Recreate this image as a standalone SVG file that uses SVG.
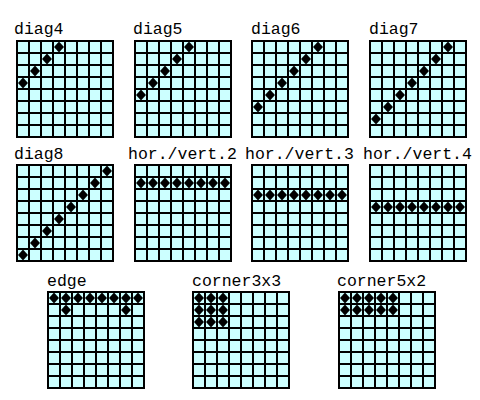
<svg xmlns="http://www.w3.org/2000/svg" xmlns:xlink="http://www.w3.org/1999/xlink" width="480" height="400" viewBox="0 0 480 400">
<style>
text{font-family:"Liberation Mono","DejaVu Sans Mono",monospace;font-size:16.5px;fill:#000}
.bg{fill:#ccffff}
.ln{stroke:#000;stroke-width:2;fill:none}
.d{fill:#000}
</style>
<defs>
<g id="grid">
<rect class="bg" x="0" y="0" width="96" height="96"/>
<path class="ln" d="M0,0V96M12,0V96M24,0V96M36,0V96M48,0V96M60,0V96M72,0V96M84,0V96M96,0V96M-1,0H97M-1,12H97M-1,24H97M-1,36H97M-1,48H97M-1,60H97M-1,72H97M-1,84H97M-1,96H97"/>
</g>
<polygon id="dm" class="d" points="0,-5.5 5,0 0,5.5 -5,0"/>
</defs>
<rect width="480" height="400" fill="#fff"/>

<g id="diag4" transform="translate(17,41)">
<use xlink:href="#grid"/>
<use xlink:href="#dm" x="42" y="6"/><use xlink:href="#dm" x="30" y="18"/><use xlink:href="#dm" x="18" y="30"/><use xlink:href="#dm" x="6" y="42"/>
</g>
<text x="14" y="34">diag4</text>

<g id="diag5" transform="translate(135,41)">
<use xlink:href="#grid"/>
<use xlink:href="#dm" x="54" y="6"/><use xlink:href="#dm" x="42" y="18"/><use xlink:href="#dm" x="30" y="30"/><use xlink:href="#dm" x="18" y="42"/><use xlink:href="#dm" x="6" y="54"/>
</g>
<text x="133" y="34">diag5</text>

<g id="diag6" transform="translate(252,41)">
<use xlink:href="#grid"/>
<use xlink:href="#dm" x="66" y="6"/><use xlink:href="#dm" x="54" y="18"/><use xlink:href="#dm" x="42" y="30"/><use xlink:href="#dm" x="30" y="42"/><use xlink:href="#dm" x="18" y="54"/><use xlink:href="#dm" x="6" y="66"/>
</g>
<text x="251" y="34">diag6</text>

<g id="diag7" transform="translate(370,41)">
<use xlink:href="#grid"/>
<use xlink:href="#dm" x="78" y="6"/><use xlink:href="#dm" x="66" y="18"/><use xlink:href="#dm" x="54" y="30"/><use xlink:href="#dm" x="42" y="42"/><use xlink:href="#dm" x="30" y="54"/><use xlink:href="#dm" x="18" y="66"/><use xlink:href="#dm" x="6" y="78"/>
</g>
<text x="369" y="34">diag7</text>

<g id="diag8" transform="translate(17,165)">
<use xlink:href="#grid"/>
<use xlink:href="#dm" x="90" y="6"/><use xlink:href="#dm" x="78" y="18"/><use xlink:href="#dm" x="66" y="30"/><use xlink:href="#dm" x="54" y="42"/><use xlink:href="#dm" x="42" y="54"/><use xlink:href="#dm" x="30" y="66"/><use xlink:href="#dm" x="18" y="78"/><use xlink:href="#dm" x="6" y="90"/>
</g>
<text x="14" y="159">diag8</text>

<g id="hv2" transform="translate(135,165)">
<use xlink:href="#grid"/>
<use xlink:href="#dm" x="6" y="18"/><use xlink:href="#dm" x="18" y="18"/><use xlink:href="#dm" x="30" y="18"/><use xlink:href="#dm" x="42" y="18"/><use xlink:href="#dm" x="54" y="18"/><use xlink:href="#dm" x="66" y="18"/><use xlink:href="#dm" x="78" y="18"/><use xlink:href="#dm" x="90" y="18"/>
</g>
<text x="128" y="159">hor./vert.2</text>

<g id="hv3" transform="translate(252,165)">
<use xlink:href="#grid"/>
<use xlink:href="#dm" x="6" y="30"/><use xlink:href="#dm" x="18" y="30"/><use xlink:href="#dm" x="30" y="30"/><use xlink:href="#dm" x="42" y="30"/><use xlink:href="#dm" x="54" y="30"/><use xlink:href="#dm" x="66" y="30"/><use xlink:href="#dm" x="78" y="30"/><use xlink:href="#dm" x="90" y="30"/>
</g>
<text x="245" y="159">hor./vert.3</text>

<g id="hv4" transform="translate(370,165)">
<use xlink:href="#grid"/>
<use xlink:href="#dm" x="6" y="42"/><use xlink:href="#dm" x="18" y="42"/><use xlink:href="#dm" x="30" y="42"/><use xlink:href="#dm" x="42" y="42"/><use xlink:href="#dm" x="54" y="42"/><use xlink:href="#dm" x="66" y="42"/><use xlink:href="#dm" x="78" y="42"/><use xlink:href="#dm" x="90" y="42"/>
</g>
<text x="363" y="159">hor./vert.4</text>

<g id="edge" transform="translate(48,292)">
<use xlink:href="#grid"/>
<use xlink:href="#dm" x="6" y="6"/><use xlink:href="#dm" x="18" y="6"/><use xlink:href="#dm" x="30" y="6"/><use xlink:href="#dm" x="42" y="6"/><use xlink:href="#dm" x="54" y="6"/><use xlink:href="#dm" x="66" y="6"/><use xlink:href="#dm" x="78" y="6"/><use xlink:href="#dm" x="90" y="6"/>
<use xlink:href="#dm" x="18" y="18"/><use xlink:href="#dm" x="78" y="18"/>
</g>
<text x="47" y="286">edge</text>

<g id="corner3x3" transform="translate(193,292)">
<use xlink:href="#grid"/>
<use xlink:href="#dm" x="6" y="6"/><use xlink:href="#dm" x="18" y="6"/><use xlink:href="#dm" x="30" y="6"/>
<use xlink:href="#dm" x="6" y="18"/><use xlink:href="#dm" x="18" y="18"/><use xlink:href="#dm" x="30" y="18"/>
<use xlink:href="#dm" x="6" y="30"/><use xlink:href="#dm" x="18" y="30"/><use xlink:href="#dm" x="30" y="30"/>
</g>
<text x="192" y="286">corner3x3</text>

<g id="corner5x2" transform="translate(339,292)">
<use xlink:href="#grid"/>
<use xlink:href="#dm" x="6" y="6"/><use xlink:href="#dm" x="18" y="6"/><use xlink:href="#dm" x="30" y="6"/><use xlink:href="#dm" x="42" y="6"/><use xlink:href="#dm" x="54" y="6"/>
<use xlink:href="#dm" x="6" y="18"/><use xlink:href="#dm" x="18" y="18"/><use xlink:href="#dm" x="30" y="18"/><use xlink:href="#dm" x="42" y="18"/><use xlink:href="#dm" x="54" y="18"/>
</g>
<text x="337" y="286">corner5x2</text>

<g id="connectors"/>
</svg>
